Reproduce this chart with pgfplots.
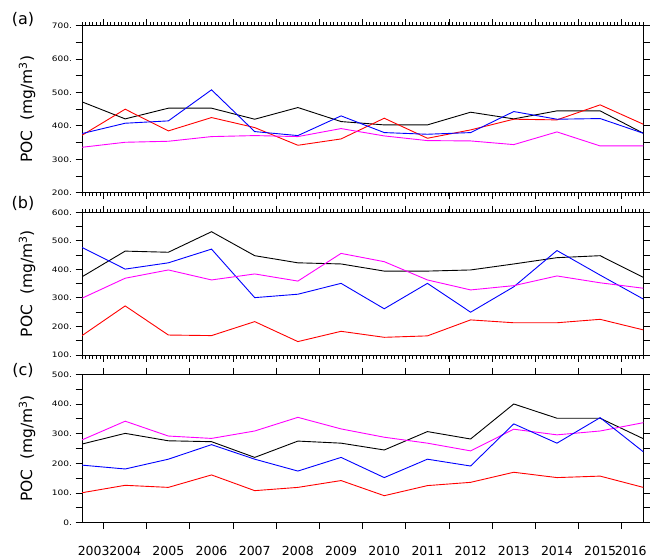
\documentclass[border=0pt]{standalone}
\usepackage{fontspec}
\setmainfont{DejaVu Sans}
\newfontfamily\tickfont[FakeStretch=1.2]{DejaVu Sans}
\usepackage{pgfplots}
\pgfplotsset{compat=1.18}
\definecolor{mag}{RGB}{255,0,255}
\pgfplotsset{
 panel/.style={
  scale only axis, width=561.3bp, xmin=2003, xmax=2016,
  anchor=north west,
  axis line style={line width=0.9bp},
  tick style={line width=0.9bp, black},
  tick align=outside,
  major tick length=6.5bp, minor tick length=3.5bp,
  xtick={2003.5,2004.5,...,2015.5}, xticklabels={},
  minor xtick={2003,2003.08333,...,2016},
  yticklabel style={font=\tickfont\fontsize{7.5bp}{9bp}\selectfont, anchor=east},
  ylabel={POC\ \ (mg/m\textsuperscript{3})},
  every axis y label/.style={at={(axis description cs:-0.098,0.5)}, rotate=90, anchor=center, font=\fontsize{15.5bp}{18bp}\selectfont},
  every axis plot/.append style={line width=0.9bp, mark=none},
 },
}
\begin{document}
\begin{tikzpicture}
\path[use as bounding box] (0,0) rectangle (650bp,-558bp);
% (a)
\begin{axis}[panel, at={(82bp,-25.7bp)}, height=167bp, ymin=200, ymax=700,
  ytick={200,250,...,700}, yticklabels={200.,,300.,,400.,,500.,,600.,,700.}]
\addplot[black] coordinates {(2003,472)(2004,421)(2005,453)(2006,453)(2007,420)(2008,455)(2009,413)(2010,403)(2011,403)(2012,441)(2013,421)(2014,445)(2015,445)(2016,378)};
\addplot[red] coordinates {(2003,372)(2004,450)(2005,385)(2006,425)(2007,395)(2008,342)(2009,361)(2010,423)(2011,363)(2012,388)(2013,420)(2014,418)(2015,463)(2016,405)};
\addplot[blue] coordinates {(2003,377)(2004,408)(2005,415)(2006,508)(2007,383)(2008,371)(2009,430)(2010,380)(2011,375)(2012,380)(2013,443)(2014,420)(2015,422)(2016,378)};
\addplot[mag] coordinates {(2003,336)(2004,351)(2005,354)(2006,368)(2007,371)(2008,368)(2009,392)(2010,370)(2011,356)(2012,355)(2013,344)(2014,382)(2015,340)(2016,340)};
\end{axis}
% (b)
\begin{axis}[panel, at={(82bp,-212.3bp)}, height=142.7bp, ymin=100, ymax=600,
  ytick={100,150,...,600}, yticklabels={100.,,200.,,300.,,400.,,500.,,600.}]
\addplot[black] coordinates {(2003,374)(2004,464)(2005,460)(2006,532)(2007,448)(2008,423)(2009,419)(2010,394)(2011,394)(2012,398)(2013,419)(2014,441)(2015,448)(2016,372)};
\addplot[blue] coordinates {(2003,477)(2004,401)(2005,423)(2006,471)(2007,301)(2008,313)(2009,351)(2010,262)(2011,351)(2012,250)(2013,339)(2014,466)(2015,380)(2016,296)};
\addplot[mag] coordinates {(2003,299)(2004,369)(2005,398)(2006,363)(2007,384)(2008,359)(2009,456)(2010,427)(2011,363)(2012,328)(2013,343)(2014,377)(2015,353)(2016,334)};
\addplot[red] coordinates {(2003,168)(2004,272)(2005,170)(2006,168)(2007,217)(2008,147)(2009,183)(2010,162)(2011,167)(2012,223)(2013,213)(2014,213)(2015,225)(2016,188)};
\end{axis}
% (c)
\begin{axis}[panel, at={(82bp,-374.3bp)}, height=148.4bp, ymin=0, ymax=500,
  minor xtick={},
  ytick={0,50,...,500}, yticklabels={0.,,100.,,200.,,300.,,400.,,500.},
  extra x ticks={2003.27,2004,2005,2006,2007,2008,2009,2010,2011,2012,2013,2014,2015,2015.71},
  extra x tick labels={2003,2004,2005,2006,2007,2008,2009,2010,2011,2012,2013,2014,2015,2016},
  extra x tick style={major tick length=0pt, tick style={draw=none},
    xticklabel style={font=\fontsize{12.5bp}{15bp}\selectfont, anchor=north, yshift=-19.6bp}}]
\addplot[black] coordinates {(2003,265)(2004,301)(2005,276)(2006,273)(2007,220)(2008,275)(2009,268)(2010,245)(2011,307)(2012,282)(2013,400)(2014,352)(2015,352)(2016,283)};
\addplot[mag] coordinates {(2003,279)(2004,342)(2005,292)(2006,284)(2007,309)(2008,355)(2009,316)(2010,288)(2011,268)(2012,242)(2013,315)(2014,296)(2015,309)(2016,337)};
\addplot[blue] coordinates {(2003,194)(2004,181)(2005,214)(2006,263)(2007,214)(2008,174)(2009,220)(2010,152)(2011,214)(2012,191)(2013,333)(2014,268)(2015,354)(2016,239)};
\addplot[red] coordinates {(2003,101)(2004,126)(2005,119)(2006,161)(2007,108)(2008,119)(2009,142)(2010,91)(2011,125)(2012,136)(2013,170)(2014,152)(2015,157)(2016,119)};
\end{axis}
\node[font=\fontsize{16bp}{19bp}\selectfont] at (23bp,-19.5bp) {(a)};
\node[font=\fontsize{16bp}{19bp}\selectfont] at (23bp,-203.5bp) {(b)};
\node[font=\fontsize{16bp}{19bp}\selectfont] at (23bp,-370bp) {(c)};
\end{tikzpicture}
\end{document}
